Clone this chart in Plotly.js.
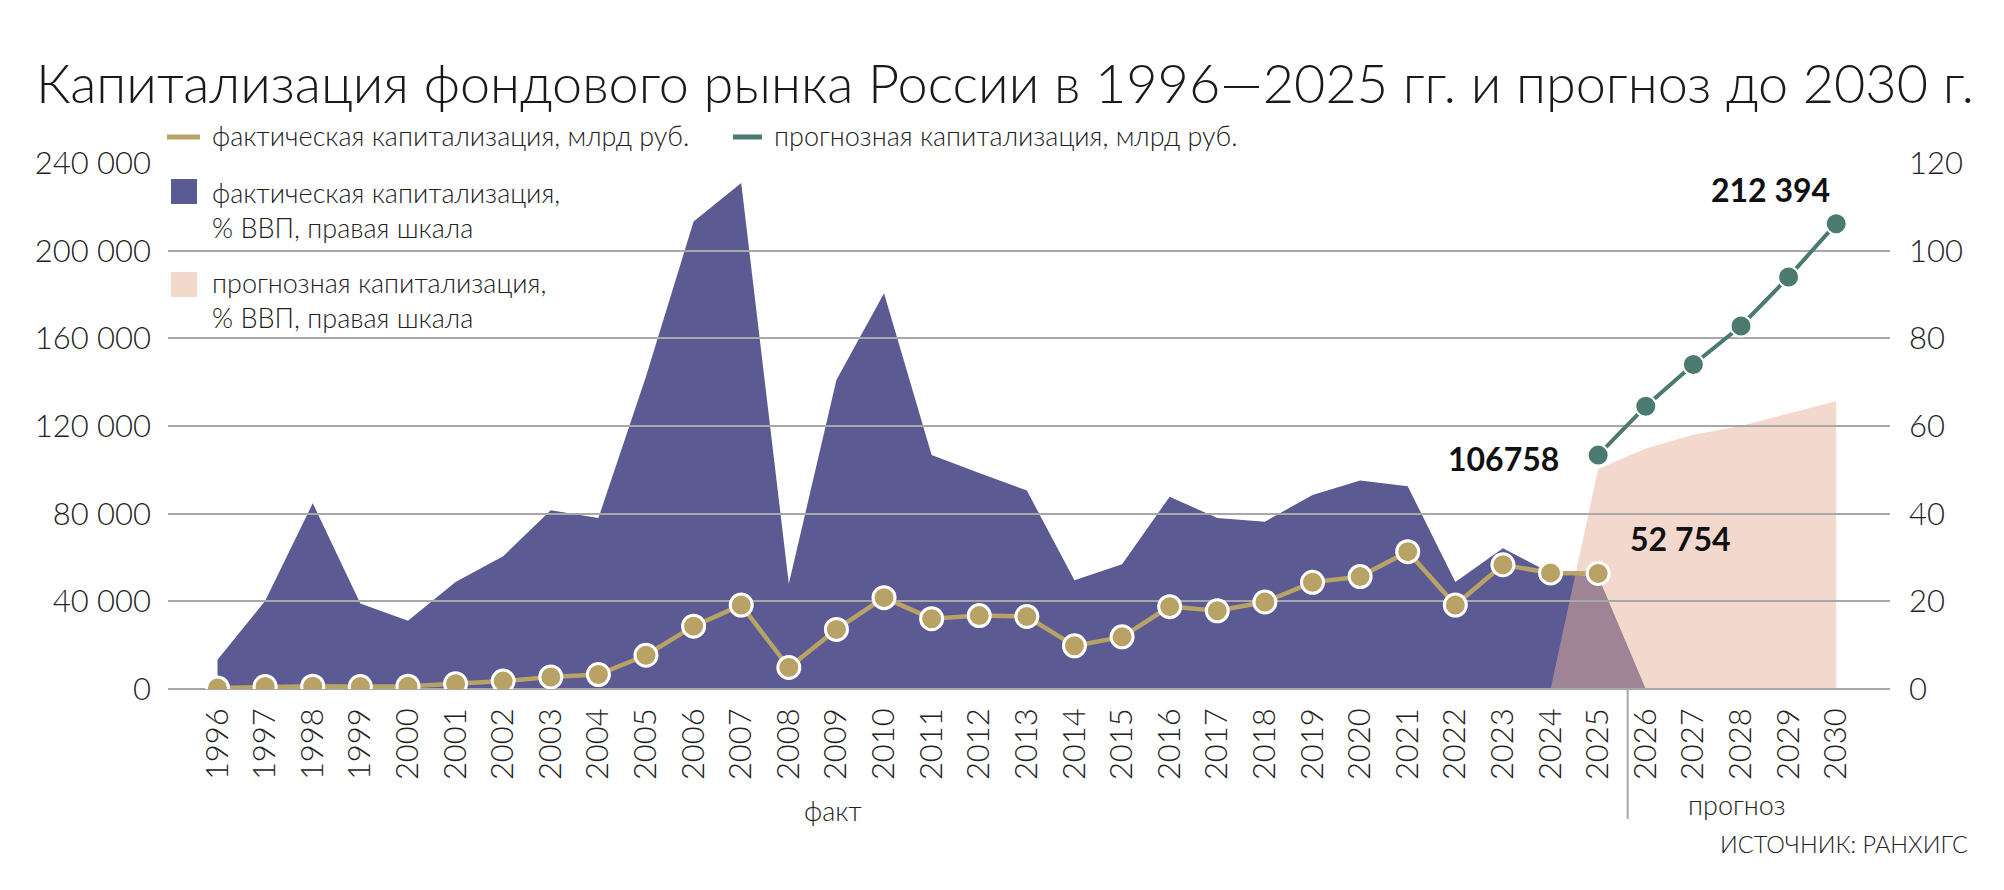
<!DOCTYPE html>
<html>
<head>
<meta charset="utf-8">
<script src="https://cdn.plot.ly/plotly-3.0.1.min.js"></script>
<style>
  html, body { margin: 0; padding: 0; background: #fff; }
  #chart { width: 2004px; height: 890px; }
</style>
</head>
<body>
<div id="chart"></div>
<script>
// годы на оси
const years = [1996, 1997, 1998, 1999, 2000, 2001, 2002, 2003, 2004, 2005, 2006, 2007, 2008, 2009, 2010,
  2011, 2012, 2013, 2014, 2015, 2016, 2017, 2018, 2019, 2020, 2021, 2022, 2023, 2024, 2025,
  2026, 2027, 2028, 2029, 2030];

// фактическая капитализация, млрд руб.
const factYears = years.slice(0, 30);
const factCap = [500, 1100, 1300, 1100, 1300, 2400, 3600, 5500, 6600, 15400, 28700, 38300, 9800, 27200, 41700,
  32100, 33500, 33100, 19700, 23800, 37600, 35700, 39700, 48700, 51300, 62700, 38300, 56700, 53000, 52754];

// фактическая капитализация, % ВВП (до 2026, где площадь сходит в ноль)
const factPctYears = years.slice(0, 31);
const factPct = [6.7, 20.1, 42.4, 19.5, 15.6, 24.4, 30.3, 40.8, 39.0, 71.3, 106.7, 115.5, 24.0, 70.5, 90.3,
  53.4, 49.3, 45.3, 24.8, 28.5, 43.9, 39.0, 38.2, 44.3, 47.6, 46.3, 24.4, 32.1, 26.5, 25.7, 0];

// прогноз, млрд руб.
const fcYears = [2025, 2026, 2027, 2028, 2029, 2030];
const fcCap = [106758, 129100, 148100, 165700, 188100, 212394];

// прогноз, % ВВП
const fcPctYears = [2024, 2025, 2026, 2027, 2028, 2029, 2030];
const fcPct = [0, 50.2, 54.9, 58.0, 60.0, 62.9, 65.7];

const C = { purple: "#5b5a92", pink: "rgba(230,175,155,0.49)", pinkSolid: "#f3d8cc", gold: "#b9a266", teal: "#4a7a70", grid: "#a8a8a8", ink: "#1e1e1e" };
const FONT = "Lato, Roboto, sans-serif";

const M = { l: 168, r: 114, t: 163, b: 201 };
const W = 2004 - M.l - M.r, H = 890 - M.t - M.b;
const px = x => (x - M.l) / W;
const py = y => (M.t + H - y) / H;

const sp = v => String(v).replace(/\B(?=(\d{3})+(?!\d))/g, " ");

const traces = [
  { x: factPctYears, y: factPct, type: "scatter", mode: "none", fill: "tozeroy", fillcolor: C.purple, xaxis: "x", yaxis: "y", hoverinfo: "skip" },
  { x: fcPctYears, y: fcPct, type: "scatter", mode: "none", fill: "tozeroy", fillcolor: C.pink, xaxis: "x", yaxis: "y", hoverinfo: "skip" },
  { x: factYears, y: factCap, type: "scatter", mode: "lines+markers", xaxis: "x2", yaxis: "y2",
    line: { color: C.gold, width: 4.5 }, marker: { size: 22, color: C.gold, line: { color: "#fff", width: 3 } } },
  { x: fcYears, y: fcCap, type: "scatter", mode: "lines+markers", xaxis: "x2", yaxis: "y2",
    line: { color: C.teal, width: 4 }, marker: { size: 21, color: C.teal, line: { color: "#fff", width: 2 } } }
];

const xr = [1994.96, 2031.13];
const tickFont = { family: FONT, size: 31, color: "#222", weight: 300 };

const lastFc = fcCap.length - 1, lastFact = factCap.length - 1;
const ann = (o) => Object.assign({ showarrow: false, font: { family: FONT, size: 27, color: "#222", weight: 300 } }, o);
const boldFont = { family: FONT, size: 32, color: "#111", weight: 700 };

const annotations = [
  // легенда
  ann({ xref: "paper", yref: "paper", x: px(210), y: py(135), xanchor: "left", yanchor: "middle", text: "фактическая капитализация, млрд руб." }),
  ann({ xref: "paper", yref: "paper", x: px(772), y: py(135), xanchor: "left", yanchor: "middle", text: "прогнозная капитализация, млрд руб." }),
  ann({ xref: "paper", yref: "paper", x: px(210), y: py(210), xanchor: "left", yanchor: "middle", align: "left", text: "фактическая капитализация,<br>% ВВП, правая шкала" }),
  ann({ xref: "paper", yref: "paper", x: px(210), y: py(300), xanchor: "left", yanchor: "middle", align: "left", text: "прогнозная капитализация,<br>% ВВП, правая шкала" }),
  // подписи значений
  ann({ xref: "x2", yref: "y2", x: fcYears[lastFc], y: fcCap[lastFc], xanchor: "right", yanchor: "middle", xshift: -4, yshift: 34,
    text: sp(fcCap[lastFc]), font: boldFont }),
  ann({ xref: "x2", yref: "y2", x: fcYears[0], y: fcCap[0], xanchor: "right", yanchor: "middle", xshift: -37, yshift: -3,
    text: String(fcCap[0]), font: boldFont }),
  ann({ xref: "x2", yref: "y2", x: factYears[lastFact], y: factCap[lastFact], xanchor: "left", yanchor: "middle", xshift: 30, yshift: 35,
    text: sp(factCap[lastFact]), font: boldFont }),
  // периоды и источник
  ann({ xref: "paper", yref: "paper", x: px(833), y: py(810), xanchor: "center", yanchor: "middle", text: "факт" }),
  ann({ xref: "paper", yref: "paper", x: px(1737), y: py(805), xanchor: "center", yanchor: "middle", text: "прогноз" }),
  ann({ xref: "paper", yref: "paper", x: px(1970), y: py(844), xanchor: "right", yanchor: "middle", text: "ИСТОЧНИК: РАНХИГС",
    font: { family: FONT, size: 23.5, color: "#222", weight: 300 } })
];

const shapes = [
  { type: "line", xref: "paper", yref: "paper", x0: px(167), x1: px(200), y0: py(137), y1: py(137), line: { color: C.gold, width: 5 } },
  { type: "line", xref: "paper", yref: "paper", x0: px(733), x1: px(762), y0: py(137), y1: py(137), line: { color: C.teal, width: 5 } },
  { type: "rect", xref: "paper", yref: "paper", x0: px(171), x1: px(197), y0: py(204), y1: py(179), fillcolor: C.purple, line: { width: 0 } },
  { type: "rect", xref: "paper", yref: "paper", x0: px(171), x1: px(197), y0: py(297), y1: py(272), fillcolor: C.pinkSolid, line: { width: 0 } },
  { type: "line", xref: "x", yref: "paper", x0: 2025.62, x1: 2025.62, y0: 0, y1: py(819), line: { color: C.grid, width: 2 } }
];

const layout = {
  width: 2004, height: 890,
  margin: M,
  paper_bgcolor: "#fff", plot_bgcolor: "rgba(0,0,0,0)",
  showlegend: false,
  separators: ", ",
  font: { family: FONT, color: C.ink, weight: 300 },
  title: { text: "Капитализация фондового рынка России в 1996—2025 гг. и прогноз до 2030 г.",
    xref: "container", yref: "container", x: 36 / 2004, xanchor: "left", y: 1 - 84 / 890, yanchor: "middle",
    font: { family: FONT, size: 54, color: "#1a1a1a", weight: 300 } },
  xaxis: { range: xr, tickvals: years, tickangle: -90, tickfont: tickFont, showgrid: false, zeroline: false, showline: false,
    ticks: "", ticklabelstandoff: 12, anchor: "y" },
  yaxis: { range: [0, 120.05], dtick: 20, side: "right", anchor: "x", showgrid: false, zeroline: false, showline: false,
    tickfont: tickFont, ticks: "", ticklabelstandoff: 18 },
  xaxis2: { range: xr, matches: "x", anchor: "y2", visible: false },
  yaxis2: { range: [0, 240100], dtick: 40000, tickformat: ",", side: "left", anchor: "x2", showgrid: true, gridcolor: C.grid, gridwidth: 2,
    zeroline: true, zerolinecolor: C.grid, zerolinewidth: 2, showline: false, tickfont: tickFont, ticks: "", ticklabelstandoff: 16 },
  annotations, shapes
};

Plotly.newPlot("chart", traces, layout, { displayModeBar: false, staticPlot: true });
</script>
</body>
</html>
